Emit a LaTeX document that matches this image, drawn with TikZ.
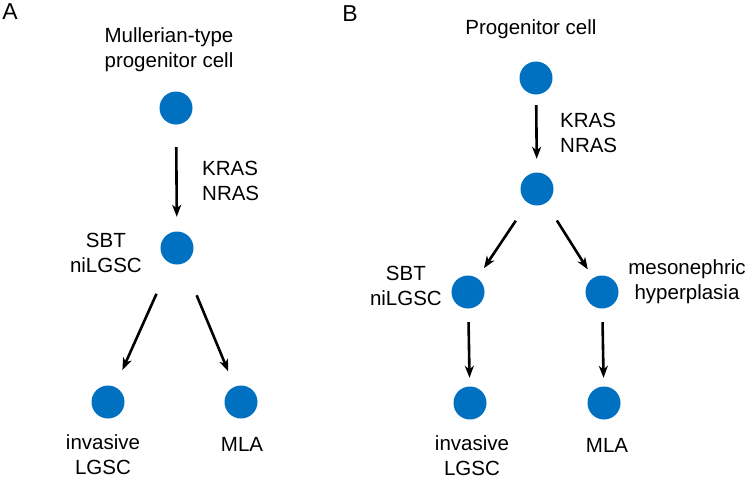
\documentclass[tikz,border=0pt]{standalone}
\usepackage{fontspec}
\setmainfont{Liberation Sans}
\usetikzlibrary{arrows.meta}
\definecolor{cellblue}{RGB}{0,112,192}

\begin{document}
\begin{tikzpicture}[x=1pt, y=-1pt,
    cell/.style={circle, fill=cellblue, minimum size=33pt, inner sep=0pt},
    lbl/.style={inner sep=0pt, font=\fontsize{20.5}{25}\selectfont},
    panel/.style={inner sep=0pt, font=\fontsize{23}{27}\selectfont},
    growth/.style={-{Stealth[length=12pt, width=9pt, inset=3.5pt]}, line width=2.6pt}]
  \useasboundingbox (0, 0) rectangle (750, 480);

  % panel A
  \node [panel] (A) at (10, 12) {A};
  \node [lbl, align=center] (mullerian) at (169, 50) {Mullerian-type\\progenitor cell};

  \node [cell] (a0) at (176, 108) {};
  \node [cell] (a1) at (177, 248) {};
  \node [cell] (a2) at (108, 402) {};
  \node [cell] (a3) at (241, 402) {};

  \node [lbl, align=left, anchor=west] (rasA) at (202, 180.5) {KRAS\\NRAS};
  \node [lbl, align=center, anchor=east] (sbtA) at (142, 252.5) {SBT\\niLGSC};
  \node [lbl, align=center] (invA) at (103, 455) {invasive\\LGSC};
  \node [lbl] (mlaA) at (242, 444) {MLA};

  \draw [growth, shorten <=22.5pt, shorten >=14.5pt] (a0) -- (a1);
  \draw [growth, shorten <=33.5pt, shorten >=18.5pt] (a1) -- (a2);
  \draw [growth, shorten <=34.5pt, shorten >=16.5pt] (a1) -- (a3);

  % panel B
  \node [panel] (B) at (350, 14) {B};
  \node [lbl] (progenitor) at (531, 29) {Progenitor cell};

  \node [cell] (b0) at (536,  78) {};
  \node [cell] (b1) at (537, 189) {};
  \node [cell] (b2) at (468, 292) {};
  \node [cell] (b3) at (602, 292) {};
  \node [cell] (b4) at (470, 403) {};
  \node [cell] (b5) at (604, 403) {};

  \node [lbl, align=left, anchor=west] (rasB) at (560, 132.5) {KRAS\\NRAS};
  \node [lbl, align=center, anchor=east] (sbtB) at (442, 285.5) {SBT\\niLGSC};
  \node [lbl, align=center] (meso) at (687, 282) {mesonephric\\hyperplasia};
  \node [lbl, align=center] (invB) at (472, 456) {invasive\\LGSC};
  \node [lbl] (mlaB) at (607, 445) {MLA};

  \draw [growth, shorten <=10.5pt, shorten >=13.5pt] (b0) -- (b1);
  \draw [growth, shorten <=21.5pt, shorten >=12pt] (b1) -- (b2);
  \draw [growth, shorten <=20.5pt, shorten >=10pt] (b1) -- (b3);
  \draw [growth, shorten <=13.5pt, shorten >=8.5pt] (b2) -- (b4);
  \draw [growth, shorten <=13.5pt, shorten >=8.5pt] (b3) -- (b5);
\end{tikzpicture}
\end{document}
